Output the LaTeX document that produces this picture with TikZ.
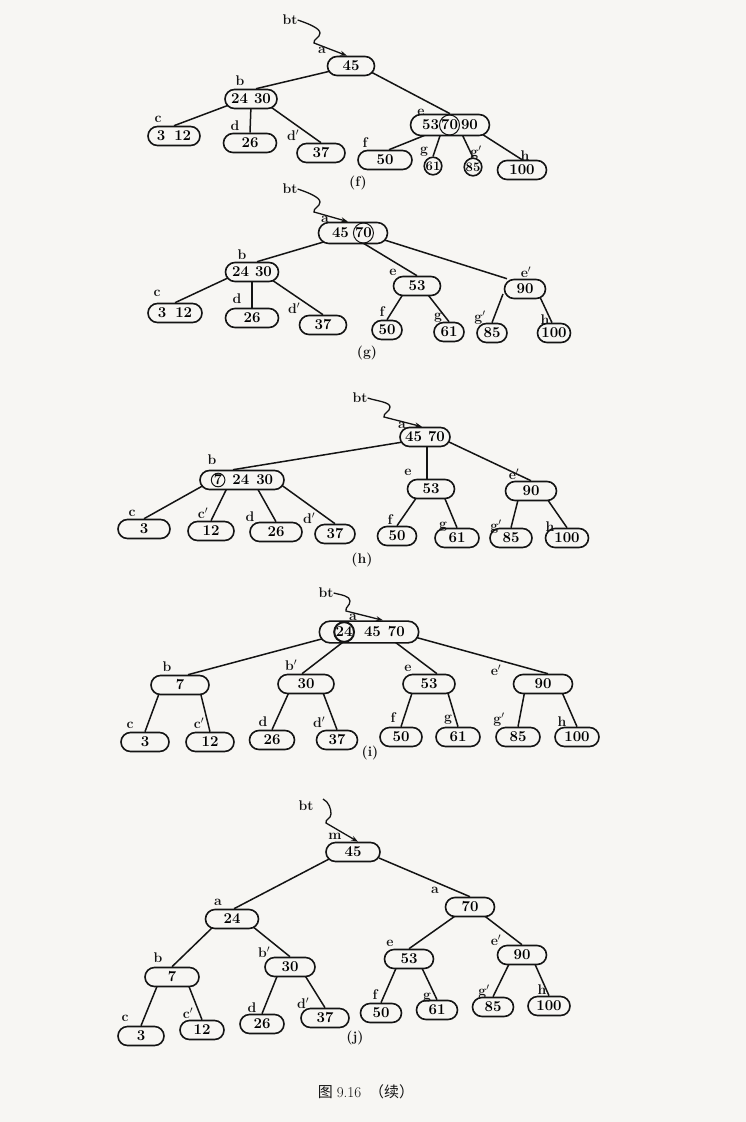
\documentclass[tikz,border=0pt]{standalone}
\usepackage{fontspec}
\newfontfamily\cjk{Noto Sans CJK SC}
\usetikzlibrary{shapes.misc,backgrounds,arrows.meta}
\definecolor{paper}{RGB}{247,246,243}
\definecolor{ink}{RGB}{20,20,20}
\newcommand\ckey[1]{\tikz[baseline=(ck.base)]\node[circle,draw=ink,line width=1pt,inner sep=0.1pt,minimum size=0pt,fill=none](ck){#1};}
\newcommand\dkey[1]{\tikz[baseline=(ck.base)]\node[circle,draw=ink,line width=2pt,inner sep=0.1pt,minimum size=0pt,fill=none](ck){#1};}
\tikzset{
  kn/.style={rounded rectangle, draw=ink, line width=1.6pt, fill=paper, minimum height=19pt,
    inner xsep=3pt, inner ysep=0pt, font=\fontsize{15}{15}\selectfont\bfseries},
  cn/.style={circle, draw=ink, line width=1.6pt, fill=paper, inner sep=0.2pt,
    font=\fontsize{13}{13}\selectfont\bfseries},
  lab/.style={inner sep=0pt, text=ink, font=\fontsize{14}{14}\selectfont\bfseries},
  edge/.style={draw=ink, line width=1.5pt},
  ptr/.style={draw=ink, line width=1.3pt, -{Stealth[length=7pt,width=5pt]}},
  capt/.style={inner sep=0pt, text=ink, font=\fontsize{14}{14}\selectfont\bfseries}
}
\begin{document}
\begin{tikzpicture}[x=1pt,y=-1pt]
\begin{scope}[on background layer]
\fill[paper] (0,0) rectangle (746,1122);
\end{scope}
\useasboundingbox (0,0) rectangle (746,1122);

% ================= (f)
\node[kn,minimum width=53pt] (af) at (351,66) {45};
\node[kn,minimum width=58pt] (bf) at (251,99) {24\hspace{6pt}30};
\node[kn,minimum width=58pt] (cf) at (174,136) {3\hspace{9pt}12};
\node[kn,minimum width=59pt] (df) at (250,143) {26};
\node[kn,minimum width=54pt] (d2f) at (321,153) {37};
\node[kn,minimum width=55pt,minimum height=17pt,inner xsep=1pt] (ef) at (450,125) {53\ckey{70}\hspace{1pt}90};
\node[kn,minimum width=60pt] (ff) at (385,160) {50};
\node[cn] (gf) at (433,166) {61};
\node[cn] (g2f) at (473,167) {85};
\node[kn,minimum width=55pt] (hf) at (522,170) {100};
\node[lab] (btf) at (290,20) {bt};
\coordinate (wf1) at (320,33);
\coordinate (wf2) at (314,43);
\draw[ptr] (btf.east) .. controls +(9,3) and +(0,-5) .. (wf1) .. controls +(0,5) and +(-1,-4) .. (wf2) -- ([xshift=-4pt]af.north);
\node[lab] (laf) at (322,50) {a};
\node[lab] (lbf) at (240,81) {b};
\node[lab] (lcf) at (158,119) {c};
\node[lab] (ldf) at (235,126) {d};
\node[lab] (ld2f) at (293,135) {d$'$};
\node[lab] (lef) at (421,112) {e};
\node[lab] (lff) at (365,143) {f};
\node[lab] (lgf) at (424,152) {g};
\node[lab] (lg2f) at (476,153) {g$'$};
\node[lab] (lhf) at (525,156) {h};
\node[capt] (capf) at (358,183) {(f)};

% ================= (g)
\node[kn,minimum width=53pt] (ag) at (353,233) {45\hspace{4pt}\ckey{70}};
\node[kn,minimum width=59pt] (bg) at (252,272) {24\hspace{6pt}30};
\node[kn,minimum width=60pt] (cg) at (175,313) {3\hspace{9pt}12};
\node[kn,minimum width=59pt] (dg) at (252,318) {26};
\node[kn,minimum width=53pt] (d2g) at (323,325) {37};
\node[kn,minimum width=53pt] (eg) at (417,286) {53};
\node[kn,minimum width=47pt] (e2g) at (525,289) {90};
\node[kn,minimum width=36pt] (fg) at (387,330) {50};
\node[kn,minimum width=36pt] (gg) at (449,332) {61};
\node[kn,minimum width=36pt] (g2g) at (492,333) {85};
\node[kn,minimum width=39pt] (hg) at (554,333) {100};
\node[lab] (btg) at (290,189) {bt};
\coordinate (wg1) at (320,202);
\coordinate (wg2) at (314,212);
\draw[ptr] (btg.east) .. controls +(9,3) and +(0,-5) .. (wg1) .. controls +(0,5) and +(-1,-4) .. (wg2) -- ([xshift=-5pt]ag.north);
\node[lab] (lag) at (325,219) {a};
\node[lab] (lbg) at (242,255) {b};
\node[lab] (lcg) at (157,293) {c};
\node[lab] (ldg) at (237,299) {d};
\node[lab] (ld2g) at (294,308) {d$'$};
\node[lab] (leg) at (393,272) {e};
\node[lab] (le2g) at (526,272) {e$'$};
\node[lab] (lfg) at (382,312) {f};
\node[lab] (lgg) at (438,318) {g};
\node[lab] (lg2g) at (480,318) {g$'$};
\node[lab] (lhg) at (545,320) {h};
\node[capt] (capg) at (367,353) {(g)};

% ================= (h)
\node[kn,minimum width=56pt] (ah) at (425,437) {45\hspace{6pt}70};
\node[kn,minimum width=90pt] (bh) at (242,480) {\ckey{7}\hspace{7pt}24\hspace{7pt}30};
\node[kn,minimum width=53pt] (eh) at (431,489) {53};
\node[kn,minimum width=57pt] (e2h) at (531,491) {90};
\node[kn,minimum width=58pt] (ch) at (144,529) {3};
\node[kn,minimum width=52pt] (c2h) at (211,531) {12};
\node[kn,minimum width=58pt] (dh) at (276,532) {26};
\node[kn,minimum width=46pt] (d2h) at (335,534) {37};
\node[kn,minimum width=45pt] (fh) at (397,536) {50};
\node[kn,minimum width=50pt] (gh) at (457,538) {61};
\node[kn,minimum width=48pt] (g2h) at (511,538) {85};
\node[kn,minimum width=49pt] (hh) at (567,538) {100};
\node[lab] (bth) at (360,398) {bt};
\coordinate (wh1) at (390,407);
\coordinate (wh2) at (384,417);
\draw[ptr] (bth.east) .. controls +(9,3) and +(0,-5) .. (wh1) .. controls +(0,5) and +(-1,-4) .. (wh2) -- ([xshift=-3pt]ah.north);
\node[lab] (lah) at (402,425) {a};
\node[lab] (lbh) at (212,460) {b};
\node[lab] (leh) at (408,472) {e};
\node[lab] (le2h) at (514,474) {e$'$};
\node[lab] (lch) at (132,513) {c};
\node[lab] (lc2h) at (203,513) {c$'$};
\node[lab] (ldh) at (250,517) {d};
\node[lab] (ld2h) at (309,518) {d$'$};
\node[lab] (lfh) at (390,520) {f};
\node[lab] (lgh) at (443,527) {g};
\node[lab] (lg2h) at (496,527) {g$'$};
\node[lab] (lhh) at (550,527) {h};
\node[capt] (caph) at (362,560) {(h)};

% ================= (i)
\node[kn,minimum width=92pt] (ai) at (369,632) {\dkey{24}\hspace{9pt}45\hspace{7pt}70};
\node[kn,minimum width=64pt] (bi) at (180,685) {7};
\node[kn,minimum width=62pt] (b2i) at (306,684) {30};
\node[kn,minimum width=58pt] (ei) at (429,684) {53};
\node[kn,minimum width=65pt] (e2i) at (543,684) {90};
\node[kn,minimum width=54pt] (ci) at (145,742) {3};
\node[kn,minimum width=54pt] (c2i) at (210,742) {12};
\node[kn,minimum width=51pt] (di) at (272,740) {26};
\node[kn,minimum width=47pt] (d2i) at (337,740) {37};
\node[kn,minimum width=48pt] (fi) at (401,737) {50};
\node[kn,minimum width=50pt] (gi) at (458,737) {61};
\node[kn,minimum width=50pt] (g2i) at (518,737) {85};
\node[kn,minimum width=50pt] (hi) at (577,737) {100};
\node[lab] (bti) at (326,593) {bt};
\coordinate (wi1) at (350,601);
\coordinate (wi2) at (346,611);
\draw[ptr] (bti.east) .. controls +(8,2) and +(0,-5) .. (wi1) .. controls +(0,5) and +(-1,-4) .. (wi2) -- ([xshift=14pt]ai.north);
\node[lab] (lai) at (353,617) {a};
\node[lab] (lbi) at (167,667) {b};
\node[lab] (lb2i) at (291,665) {b$'$};
\node[lab] (lei) at (408,668) {e};
\node[lab] (le2i) at (496,670) {e$'$};
\node[lab] (lci) at (130,725) {c};
\node[lab] (lc2i) at (199,723) {c$'$};
\node[lab] (ldi) at (263,722) {d};
\node[lab] (ld2i) at (319,722) {d$'$};
\node[lab] (lfi) at (393,718) {f};
\node[lab] (lgi) at (448,720) {g};
\node[lab] (lg2i) at (499,720) {g$'$};
\node[lab] (lhi) at (562,722) {h};
\node[capt] (capi) at (370,753) {(i)};

% ================= (j)
\node[kn,minimum width=60pt] (mj) at (353,852) {45};
\node[kn,minimum width=59pt] (aj) at (232,919) {24};
\node[kn,minimum width=55pt] (a2j) at (470,907) {70};
\node[kn,minimum width=60pt] (bj) at (172,977) {7};
\node[kn,minimum width=56pt] (b2j) at (290,967) {30};
\node[kn,minimum width=55pt] (ej) at (409,959) {53};
\node[kn,minimum width=55pt] (e2j) at (522,955) {90};
\node[kn,minimum width=52pt] (cj) at (141,1036) {3};
\node[kn,minimum width=50pt] (c2j) at (202,1030) {12};
\node[kn,minimum width=50pt] (dj) at (262,1024) {26};
\node[kn,minimum width=54pt] (d2j) at (325,1018) {37};
\node[kn,minimum width=47pt] (fj) at (381,1013) {50};
\node[kn,minimum width=47pt] (gj) at (437,1010) {61};
\node[kn,minimum width=47pt] (g2j) at (493,1007) {85};
\node[kn,minimum width=48pt] (hj) at (549,1006) {100};
\node[lab] (btj) at (306,806) {bt};
\coordinate (wj0) at (323,799);
\coordinate (wj1) at (331,814);
\coordinate (wj2) at (326,823);
\draw[ptr] (wj0) .. controls +(6,3) and +(0,-5) .. (wj1) .. controls +(0,5) and +(-1,-4) .. (wj2) -- ([xshift=5pt]mj.north);
\node[lab] (lmj) at (335,836) {m};
\node[lab] (laj) at (218,902) {a};
\node[lab] (la2j) at (435,890) {a};
\node[lab] (lbj) at (158,958) {b};
\node[lab] (lb2j) at (264,952) {b$'$};
\node[lab] (lej) at (390,943) {e};
\node[lab] (le2j) at (496,940) {e$'$};
\node[lab] (lcj) at (125,1018) {c};
\node[lab] (lc2j) at (188,1013) {c$'$};
\node[lab] (ldj) at (252,1008) {d};
\node[lab] (ld2j) at (303,1003) {d$'$};
\node[lab] (lfj) at (375,995) {f};
\node[lab] (lgj) at (427,998) {g};
\node[lab] (lg2j) at (484,992) {g$'$};
\node[lab] (lhj) at (542,990) {h};
\node[capt] (capj) at (355,1038) {(j)};

\node[inner sep=0pt,text=ink,font=\fontsize{15}{15}\selectfont] (cap) at (366,1092) {\cjk 图\hspace{4pt}\rmfamily 9.16\hspace{8pt}\cjk （续）};

% ================= connectors
\begin{scope}[on background layer]
% (f)
\draw[edge] ([shift={(-16,4)}]af.center) -- ([xshift=5pt]bf.north);
\draw[edge] ([shift={(20,6)}]af.center) -- (ef.north);
\draw[edge] ([shift={(-22,6)}]bf.center) -- (cf.north);
\draw[edge] ([shift={(0,6)}]bf.center) -- (df.north);
\draw[edge] ([shift={(17,6)}]bf.center) -- (d2f.north);
\draw[edge] ([shift={(-12,5)}]ef.center) -- ([xshift=4pt]ff.north);
\draw[edge] ([shift={(-8,5)}]ef.center) -- (gf.north);
\draw[edge] ([shift={(10,5)}]ef.center) -- (g2f.north);
\draw[edge] ([shift={(24,4)}]ef.center) -- (hf.north);
% (g)
\draw[edge] ([shift={(-16,5)}]ag.center) -- ([xshift=5pt]bg.north);
\draw[edge] ([shift={(5,7)}]ag.center) -- (eg.north);
\draw[edge] ([shift={(22,4)}]ag.center) -- ([xshift=-18pt]e2g.north);
\draw[edge] ([shift={(-22,5)}]bg.center) -- (cg.north);
\draw[edge] ([shift={(0,6)}]bg.center) -- (dg.north);
\draw[edge] ([shift={(17,6)}]bg.center) -- (d2g.north);
\draw[edge] ([shift={(-12,5)}]eg.center) -- (fg.north);
\draw[edge] ([shift={(8,5)}]eg.center) -- (gg.north);
\draw[edge] ([shift={(-22,5)}]e2g.center) -- (g2g.north);
\draw[edge] ([shift={(14,6)}]e2g.center) -- ([xshift=-2pt]hg.north);
% (h)
\draw[edge] ([shift={(-22,5)}]ah.center) -- ([xshift=-9pt]bh.north);
\draw[edge] ([shift={(2,6)}]ah.center) -- ([xshift=-4pt]eh.north);
\draw[edge] ([shift={(24,5)}]ah.center) -- (e2h.north);
\draw[edge] ([shift={(-36,4)}]bh.center) -- (ch.north);
\draw[edge] ([shift={(-14,6)}]bh.center) -- (c2h.north);
\draw[edge] ([shift={(14,6)}]bh.center) -- (dh.north);
\draw[edge] ([shift={(38,4)}]bh.center) -- (d2h.north);
\draw[edge] ([shift={(-12,5)}]eh.center) -- (fh.north);
\draw[edge] ([shift={(12,5)}]eh.center) -- (gh.north);
\draw[edge] ([shift={(-12,5)}]e2h.center) -- (g2h.north);
\draw[edge] ([shift={(14,5)}]e2h.center) -- (hh.north);
% (i)
\draw[edge] ([shift={(-40,5)}]ai.center) -- ([xshift=8pt]bi.north);
\draw[edge] ([shift={(-22,7)}]ai.center) -- ([xshift=-4pt]b2i.north);
\draw[edge] ([shift={(22,7)}]ai.center) -- ([xshift=8pt]ei.north);
\draw[edge] ([shift={(42,4)}]ai.center) -- ([xshift=5pt]e2i.north);
\draw[edge] ([shift={(-20,6)}]bi.center) -- (ci.north);
\draw[edge] ([shift={(20,6)}]bi.center) -- (c2i.north);
\draw[edge] ([shift={(-16,6)}]b2i.center) -- (di.north);
\draw[edge] ([shift={(16,6)}]b2i.center) -- (d2i.north);
\draw[edge] ([shift={(-16,6)}]ei.center) -- (fi.north);
\draw[edge] ([shift={(18,6)}]ei.center) -- (gi.north);
\draw[edge] ([shift={(-18,6)}]e2i.center) -- (g2i.north);
\draw[edge] ([shift={(18,6)}]e2i.center) -- (hi.north);
% (j)
\draw[edge] ([shift={(-22,6)}]mj.center) -- ([xshift=2pt]aj.north);
\draw[edge] ([shift={(26,6)}]mj.center) -- (a2j.north);
\draw[edge] ([shift={(-18,7)}]aj.center) -- (bj.north);
\draw[edge] ([shift={(20,7)}]aj.center) -- (b2j.north);
\draw[edge] ([shift={(-12,7)}]a2j.center) -- (ej.north);
\draw[edge] ([shift={(12,7)}]a2j.center) -- (e2j.north);
\draw[edge] ([shift={(-14,7)}]bj.center) -- (cj.north);
\draw[edge] ([shift={(16,7)}]bj.center) -- (c2j.north);
\draw[edge] ([shift={(-12,7)}]b2j.center) -- (dj.north);
\draw[edge] ([shift={(14,7)}]b2j.center) -- (d2j.north);
\draw[edge] ([shift={(-12,7)}]ej.center) -- (fj.north);
\draw[edge] ([shift={(12,7)}]ej.center) -- (gj.north);
\draw[edge] ([shift={(-12,7)}]e2j.center) -- (g2j.north);
\draw[edge] ([shift={(12,7)}]e2j.center) -- (hj.north);
\end{scope}
\end{tikzpicture}
\end{document}
